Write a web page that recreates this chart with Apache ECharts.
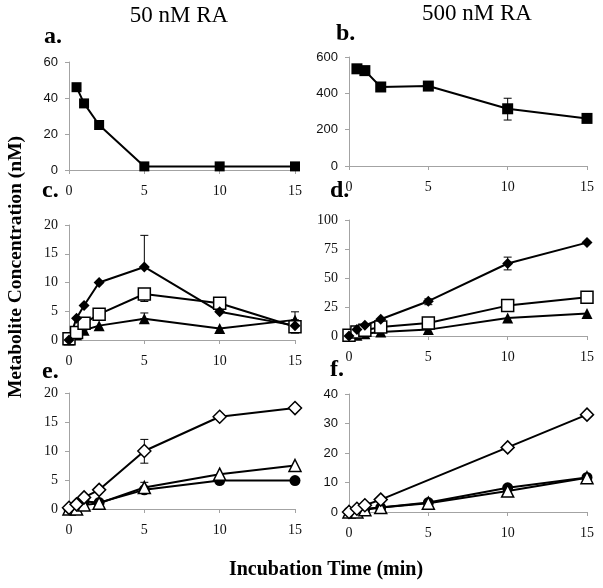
<!DOCTYPE html>
<html><head><meta charset="utf-8">
<script src="https://cdn.jsdelivr.net/npm/echarts@6/dist/echarts.min.js"></script>
<style>html,body{margin:0;padding:0;background:#fff}#c{width:603px;height:588px}</style>
</head><body><div id="c"></div>
<script>
// ---- data ----
const times = [0, 0.5, 1, 2, 5, 10, 15];
const xTicks = [0, 5, 10, 15];
// panel a (50 nM RA) : RA
const aRA = [null, 46, 37, 25, 2, 2, 2];
// panel b (500 nM RA) : RA
const bRA = [null, 535, 525, 435, 440, 315, 262];
const bErr = [[10, 253, 373]];
// panel c : filled diamond, open square, filled triangle
const cDiamond = [0, 3.8, 6.0, 10.0, 12.7, 4.9, 2.5];
const cSquare = [0.2, 1.3, 2.9, 4.5, 8.0, 6.4, 2.3];
const cTriangle = [0, 0.9, 1.7, 2.5, 3.7, 2.0, 3.5];
const cErr = [[5, 12.7, 18.2], [5, 6.7, 8.0], [5, 3.7, 4.7], [15, 1.2, 2.3], [15, 3.5, 4.9]];
// panel d
const dDiamond = [0, 5.5, 9.2, 14.4, 30, 62.5, 80.5];
const dSquare = [0.6, 3.5, 4.9, 7.8, 11.2, 26.2, 33.5];
const dTriangle = [0, 0.6, 2.0, 3.5, 5.5, 15.5, 19.5];
const dErr = [[10, 57, 68], [5, 27, 32]];
// panel e : open diamond, open triangle, filled circle
const eDiamond = [0.2, 0.8, 2.0, 3.3, 10.0, 15.9, 17.4];
const eTriangle = [0, 0, 0.7, 1.0, 3.7, 6.0, 7.5];
const eCircle = [0, 0.6, 1.3, 1.1, 3.3, 4.9, 4.9];
const eErr = [[5, 7.9, 12.0], [5, 3.7, 4.6]];
// panel f
const fDiamond = [0, 1.1, 2.3, 4.2, null, 21.9, 33.0];
const fTriangle = [0, 0, 0.8, 1.5, 3.0, 7.1, 11.6];
const fCircle = [0, 0.5, 1.1, 1.5, 3.2, 8.2, 11.7];
// y axis ticks
const yA = {max: 60, interval: 20};
const yB = {max: 600, interval: 200};
const yC = {max: 20, interval: 5};
const yD = {max: 100, interval: 25};
const yE = {max: 20, interval: 5};
const yF = {max: 40, interval: 10};

// ---- chart ----
const chart = echarts.init(document.getElementById('c'));
const serif = 'Liberation Serif';
const sans = 'Liberation Sans';
const grids = [
  {left: 69, top: 62, width: 226, height: 108},
  {left: 349, top: 57, width: 238, height: 109},
  {left: 69, top: 225, width: 226, height: 115},
  {left: 349, top: 220, width: 238, height: 116},
  {left: 69, top: 393, width: 226, height: 116},
  {left: 349, top: 394, width: 238, height: 118}
];
const yDefs = [[yA, sans, 13], [yB, sans, 13], [yC, serif, 14], [yD, serif, 14], [yE, serif, 14], [yF, sans, 13]];
const axisCol = '#a3a3a3';
const xAxes = grids.map((g, i) => ({
  type: 'value', gridIndex: i, min: 0, max: 15, interval: 5,
  axisLine: {show: true, lineStyle: {color: axisCol, width: 1}},
  axisTick: {show: true, length: 4, lineStyle: {color: axisCol}},
  splitLine: {show: false},
  axisLabel: {margin: 14, fontFamily: serif, fontSize: 14, color: '#111',
    customValues: xTicks}
}));
const yAxes = yDefs.map((d, i) => ({
  type: 'value', gridIndex: i, min: 0, max: d[0].max, interval: d[0].interval,
  axisLine: {show: true, lineStyle: {color: axisCol, width: 1}},
  axisTick: {show: true, length: 4, lineStyle: {color: axisCol}},
  splitLine: {show: false},
  axisLabel: {margin: 11, fontFamily: d[1], fontSize: d[2], color: '#111'}
}));

function pairs(arr) {
  const out = [];
  arr.forEach((v, k) => { if (v !== null) out.push([times[k], v]); });
  return out;
}
function line(idx, arr, symbol, size, open) {
  return {
    type: 'line', xAxisIndex: idx, yAxisIndex: idx, data: pairs(arr),
    symbol: symbol, symbolSize: size, showAllSymbol: true,
    lineStyle: {color: '#000', width: 2},
    itemStyle: open ? {color: '#fff', borderColor: '#000', borderWidth: 1.5}
                    : {color: '#000', borderColor: '#000', borderWidth: 0},
    z: 3, animation: false
  };
}
function errs(idx, data) {
  return {
    type: 'custom', xAxisIndex: idx, yAxisIndex: idx, data: data, z: 2,
    animation: false,
    renderItem: function (params, api) {
      const x = api.value(0), lo = api.value(1), hi = api.value(2);
      const p1 = api.coord([x, lo]), p2 = api.coord([x, hi]);
      const w = 4;
      const st = {stroke: '#000', lineWidth: 1};
      return {type: 'group', children: [
        {type: 'line', shape: {x1: p1[0], y1: p1[1], x2: p2[0], y2: p2[1]}, style: st},
        {type: 'line', shape: {x1: p1[0] - w, y1: p1[1], x2: p1[0] + w, y2: p1[1]}, style: st},
        {type: 'line', shape: {x1: p2[0] - w, y1: p2[1], x2: p2[0] + w, y2: p2[1]}, style: st}
      ]};
    }
  };
}

const series = [
  line(0, aRA, 'rect', 10, false),
  errs(1, bErr), line(1, bRA, 'rect', 11, false),
  errs(2, cErr),
  line(2, cTriangle, 'triangle', 11, false),
  line(2, cSquare, 'rect', 12, true),
  line(2, cDiamond, 'diamond', 11, false),
  errs(3, dErr),
  line(3, dTriangle, 'triangle', 11, false),
  line(3, dSquare, 'rect', 12, true),
  line(3, dDiamond, 'diamond', 11, false),
  errs(4, eErr),
  line(4, eCircle, 'circle', 11, false),
  line(4, eTriangle, 'triangle', 12, true),
  line(4, eDiamond, 'diamond', 13, true),
  line(5, fCircle, 'circle', 11, false),
  line(5, fTriangle, 'triangle', 12, true),
  line(5, fDiamond, 'diamond', 13, true)
];

const panelLabels = [['a.', 44, 25], ['b.', 336, 22], ['c.', 42, 179], ['d.', 330, 179], ['e.', 42, 360], ['f.', 330, 358]];
const graphic = panelLabels.map(p => ({
  type: 'text', left: p[1], top: p[2],
  style: {text: p[0], font: 'bold 24px "Liberation Serif"', fill: '#000'}
}));
graphic.push({type: 'text', x: 179, y: 16, style: {text: '50 nM RA', font: '23px "Liberation Serif"', fill: '#000', align: 'center', verticalAlign: 'middle'}});
graphic.push({type: 'text', x: 477, y: 14, style: {text: '500 nM RA', font: '23px "Liberation Serif"', fill: '#000', align: 'center', verticalAlign: 'middle'}});
graphic.push({type: 'text', x: 16, y: 267, rotation: Math.PI / 2,
  style: {text: 'Metabolite Concentration (nM)', font: 'bold 19.5px "Liberation Serif"', fill: '#000', align: 'center', verticalAlign: 'middle'}});
graphic.push({type: 'text', x: 326, y: 570,
  style: {text: 'Incubation Time (min)', font: 'bold 20px "Liberation Serif"', fill: '#000', align: 'center', verticalAlign: 'middle'}});

chart.setOption({
  animation: false,
  grid: grids,
  xAxis: xAxes,
  yAxis: yAxes,
  series: series,
  graphic: graphic
});
</script></body></html>
